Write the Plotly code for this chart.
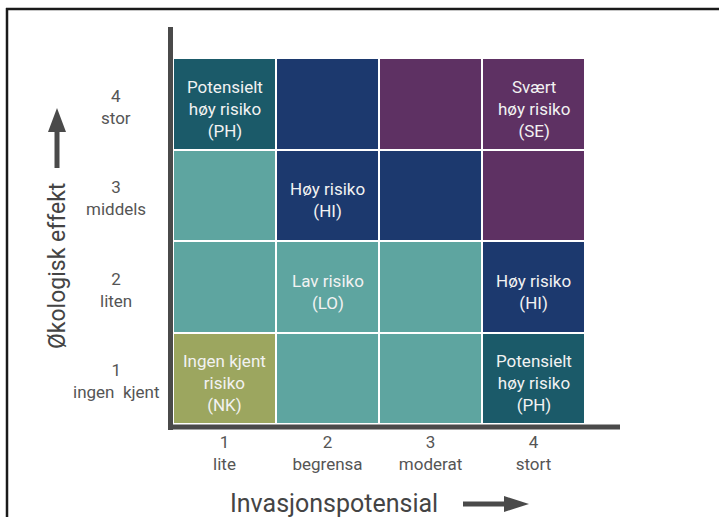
import plotly.graph_objects as go

# ---- data ----
x_ticks = ["1<br>lite", "2<br>begrensa", "3<br>moderat", "4<br>stort"]
y_ticks = ["1<br>ingen\u00a0\u00a0kjent", "2<br>liten", "3<br>middels", "4<br>stor"]
x_vals = [1, 2, 3, 4]
y_vals = [1, 2, 3, 4]

categories = ["NK", "LO", "PH", "HI", "SE"]
cat_colors = ["#9ca65f", "#5ea5a0", "#1b5a69", "#1c396e", "#5e3163"]

# risk category per row (y = 1..4), columns x = 1..4
risk_rows = [
    ["NK", "LO", "LO", "PH"],
    ["LO", "LO", "LO", "HI"],
    ["LO", "HI", "HI", "SE"],
    ["PH", "HI", "SE", "SE"],
]

cell_label_x = [1, 2, 2, 4, 1, 4, 4]
cell_label_y = [1, 2, 3, 2, 4, 1, 4]
cell_labels = [
    "Ingen kjent<br>risiko<br>(NK)",
    "Lav risiko<br>(LO)",
    "Høy risiko<br>(HI)",
    "Høy risiko<br>(HI)",
    "Potensielt<br>høy risiko<br>(PH)",
    "Potensielt<br>høy risiko<br>(PH)",
    "Svært<br>høy risiko<br>(SE)",
]

x_title = "Invasjonspotensial"
y_title = "Økologisk effekt"

# ---- figure ----
W, H = 719, 517
L, R, T, B = 170, 99, 27, 89
PW, PH_ = W - L - R, H - T - B


def px(x):
    return (x - L) / PW


def py(y):
    return (H - B - y) / PH_


n = len(categories)
z = [[categories.index(c) + 0.5 for c in row] for row in risk_rows]
colorscale = []
for i, c in enumerate(cat_colors):
    colorscale.append([i / n, c])
    colorscale.append([(i + 1) / n, c])

fig = go.Figure()
fig.add_trace(go.Heatmap(
    x=x_vals, y=y_vals, z=z, zmin=0, zmax=n,
    colorscale=colorscale, showscale=False, xgap=2, ygap=2, hoverinfo="skip",
))

ax_col = "#4a4a4a"
xu = (585 - 173) / 4
yu = (424 - 58) / 4
fig.update_xaxes(
    range=[0.5 - (173 - L) / xu, 4.5 + (W - R - 585) / xu],
    tickvals=x_vals, ticktext=x_ticks, showgrid=False, zeroline=False,
    showline=False, ticks="", ticklabelstandoff=2,
    tickfont=dict(family="Roboto", size=17, color="#555555"),
)
fig.update_yaxes(
    range=[0.5 - (H - B - 424) / yu, 4.5 + (58 - T) / yu],
    showticklabels=False, showgrid=False, zeroline=False, showline=False, ticks="",
)

annotations = []
for cx, cy, t in zip(cell_label_x, cell_label_y, cell_labels):
    annotations.append(dict(
        x=cx, y=cy, xref="x", yref="y", text=t, showarrow=False,
        xanchor="center", yanchor="middle", align="center", yshift=-5,
        font=dict(family="Roboto", size=17, color="#f2f2f2"),
    ))
for v, t in zip(y_vals, y_ticks):
    annotations.append(dict(
        x=px(116), xref="paper", y=v, yref="y", text=t, showarrow=False,
        xanchor="center", yanchor="middle", align="center", yshift=-3,
        font=dict(family="Roboto", size=17, color="#555555"),
    ))
annotations.append(dict(
    x=px(334), y=py(503), xref="paper", yref="paper", text=x_title,
    showarrow=False, xanchor="center", yanchor="middle",
    font=dict(family="Roboto", size=25, color="#444444"),
))
annotations.append(dict(
    x=px(57), y=py(266), xref="paper", yref="paper", text=y_title,
    showarrow=False, xanchor="center", yanchor="middle", textangle=-90,
    font=dict(family="Roboto", size=23, color="#444444"),
))

shapes = []
shapes.append(dict(type="line", xref="paper", yref="paper",
                   x0=px(170.5), x1=px(170.5), y0=py(27), y1=py(430),
                   line=dict(color=ax_col, width=5)))
shapes.append(dict(type="line", xref="paper", yref="paper",
                   x0=px(168), x1=px(620), y0=py(427), y1=py(427),
                   line=dict(color=ax_col, width=5)))
shapes.append(dict(type="line", xref="paper", yref="paper",
                   x0=px(6), x1=px(719), y0=py(9), y1=py(9),
                   line=dict(color="#1a1a1a", width=2.5)))
shapes.append(dict(type="line", xref="paper", yref="paper",
                   x0=px(7), x1=px(7), y0=py(8), y1=py(517),
                   line=dict(color="#1a1a1a", width=2.5)))
shapes.append(dict(type="line", xref="paper", yref="paper",
                   x0=px(57), x1=px(57), y0=py(168), y1=py(130),
                   line=dict(color=ax_col, width=5)))
shapes.append(dict(type="path", xref="paper", yref="paper",
                   path=f"M {px(48)} {py(132)} L {px(66)} {py(132)} L {px(57)} {py(108)} Z",
                   fillcolor=ax_col, line=dict(width=0)))
shapes.append(dict(type="line", xref="paper", yref="paper",
                   x0=px(463), x1=px(506), y0=py(504), y1=py(504),
                   line=dict(color=ax_col, width=5)))
shapes.append(dict(type="path", xref="paper", yref="paper",
                   path=f"M {px(504)} {py(496)} L {px(504)} {py(512)} L {px(529)} {py(504)} Z",
                   fillcolor=ax_col, line=dict(width=0)))

fig.update_layout(
    width=W, height=H, margin=dict(l=L, r=R, t=T, b=B, pad=0),
    plot_bgcolor="white", paper_bgcolor="white",
    annotations=annotations, shapes=shapes, showlegend=False,
)

fig.write_html(
    "out.html",
    config={"displayModeBar": False},
    post_script="document.body.style.margin='0';document.body.style.overflow='hidden';",
)
